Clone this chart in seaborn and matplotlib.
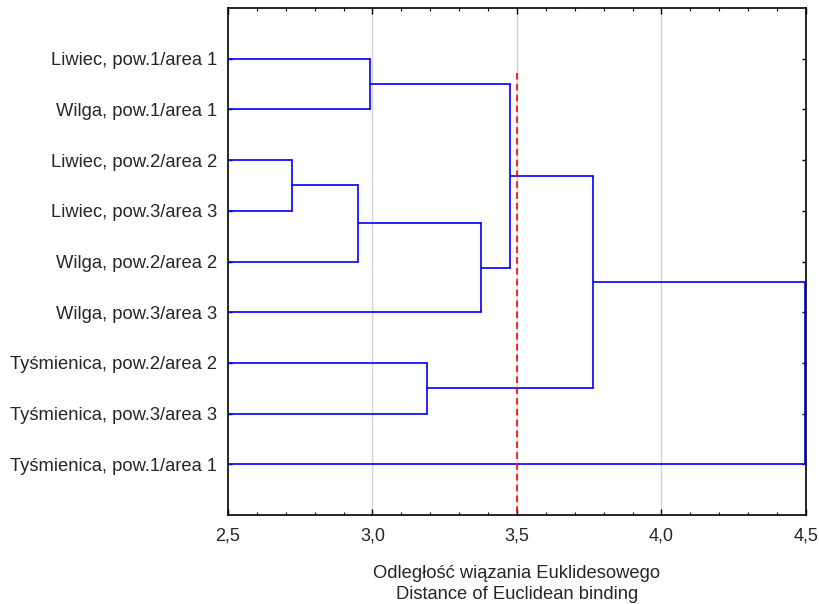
import numpy as np
import pandas as pd
import matplotlib
matplotlib.use('Agg')
import matplotlib.pyplot as plt
from matplotlib.ticker import MultipleLocator, FuncFormatter
import seaborn as sns

# leaves, top to bottom
leaves = ['Liwiec, pow.1/area 1', 'Wilga, pow.1/area 1', 'Liwiec, pow.2/area 2',
          'Liwiec, pow.3/area 3', 'Wilga, pow.2/area 2', 'Wilga, pow.3/area 3',
          'Tyśmienica, pow.2/area 2', 'Tyśmienica, pow.3/area 3', 'Tyśmienica, pow.1/area 1']

# merges: (left node, right node, linkage distance); merge k creates node 9 + k
merge_a = [2, 0, 9, 11, 10, 6, 13, 15]
merge_b = [3, 1, 4, 5, 12, 7, 14, 8]
merge_h = [2.72, 2.99, 2.95, 3.375, 3.477, 3.19, 3.763, 4.495]
cut_level = 3.5
cut_top = 1.28
x_min = 2.5

# build segment table from the linkage
pos = {i: (x_min, i + 1.0) for i in range(len(leaves))}  # node -> (x, y)
rows = []
seg = 0
for k in range(len(merge_h)):
    a, b, h = merge_a[k], merge_b[k], merge_h[k]
    xa, ya = pos[a]
    xb, yb = pos[b]
    for (x0, y0, x1, y1) in [(xa, ya, h, ya), (h, ya, h, yb), (h, yb, xb, yb)]:
        rows.append((seg, x0, y0))
        rows.append((seg, x1, y1))
        seg += 1
    pos[len(leaves) + k] = (h, (ya + yb) / 2)

df = pd.DataFrame(rows, columns=['seg', 'x', 'y'])

sns.set_style('white')
plt.rcParams['font.family'] = ['Liberation Sans', 'DejaVu Sans']

fig = plt.figure(figsize=(8.2, 6.04), dpi=100)
ax = fig.add_axes([228 / 820, 1 - 515 / 604, (806 - 228) / 820, (515 - 8) / 604])

# grid lines
for v in [3.0, 3.5, 4.0]:
    ax.axvline(v, color='#d4d4d4', lw=1, zorder=0)

# dendrogram
sns.lineplot(data=df, x='x', y='y', units='seg', estimator=None, sort=False,
             color='#0000ff', lw=1.2, ax=ax, legend=False)

# cut line
ax.plot([cut_level, cut_level], [cut_top, 10], color='#ff0000', lw=1.2,
        ls=(0, (4, 2.5)), zorder=3)

ax.set_xlim(2.5, 4.5)
ax.set_ylim(10, 0)
ax.set_yticks(np.arange(1, len(leaves) + 1))
ax.set_yticklabels(leaves, fontsize=13.2)
ax.xaxis.set_major_locator(MultipleLocator(0.5))
ax.xaxis.set_minor_locator(MultipleLocator(0.1))
ax.xaxis.set_major_formatter(FuncFormatter(lambda v, p: f'{v:.1f}'.replace('.', ',')))
ax.tick_params(axis='x', which='major', direction='in', length=4, width=1,
               top=True, bottom=True, labelsize=13, pad=9, color='black')
ax.tick_params(axis='x', which='minor', direction='in', length=2.5, width=0.8,
               top=True, bottom=True, color='black')
ax.tick_params(axis='y', which='major', direction='in', length=3, width=1,
               left=True, right=True, pad=8, color='black')
for s in ax.spines.values():
    s.set_color('black')
    s.set_linewidth(1.2)

ax.set_xlabel('Odległość wiązania Euklidesowego\nDistance of Euclidean binding',
              fontsize=13.2, labelpad=15, linespacing=1.3)
ax.set_ylabel('')

fig.savefig('out.png', dpi=100)
